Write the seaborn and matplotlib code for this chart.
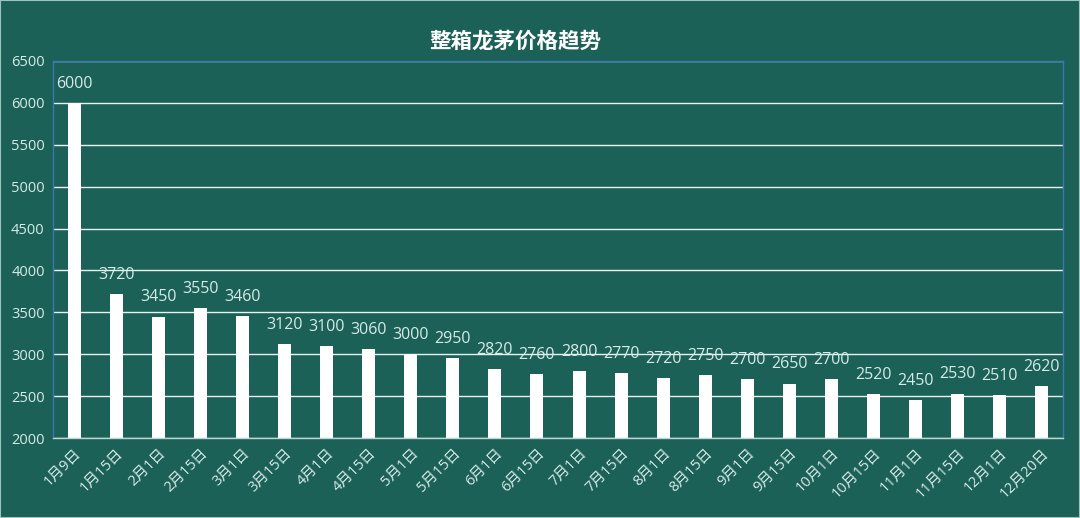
import matplotlib
matplotlib.use("Agg")
import matplotlib.pyplot as plt
import seaborn as sns
import pandas as pd
import numpy as np
from matplotlib.patches import Rectangle

categories = ["1月9日", "1月15日", "2月1日", "2月15日", "3月1日", "3月15日", "4月1日", "4月15日",
              "5月1日", "5月15日", "6月1日", "6月15日", "7月1日", "7月15日", "8月1日", "8月15日",
              "9月1日", "9月15日", "10月1日", "10月15日", "11月1日", "11月15日", "12月1日", "12月20日"]
prices = [6000, 3720, 3450, 3550, 3460, 3120, 3100, 3060, 3000, 2950, 2820, 2760,
          2800, 2770, 2720, 2750, 2700, 2650, 2700, 2520, 2450, 2530, 2510, 2620]
yticks = list(range(2000, 6501, 500))
title = "整箱龙茅价格趋势"

BG = "#1b6158"
TXT = "#d6ebe7"

sns.set_theme(style="white")
plt.rcParams['font.family'] = ['Open Sans', 'Noto Sans CJK SC', 'DejaVu Sans']

fig = plt.figure(figsize=(10.8, 5.18), dpi=100, facecolor=BG)
ax = fig.add_axes([53/1080, 1-438/518, (1063-53)/1080, (438-61)/518])
ax.set_facecolor(BG)

df = pd.DataFrame({"date": categories, "price": prices})
sns.barplot(data=df, x="date", y="price", color="white", width=0.31, ax=ax,
            saturation=1, edgecolor="none")

ax.set_ylim(2000, 6500)
ax.set_xlim(-0.5, len(categories) - 0.5)
ax.set_yticks(yticks)
ax.set_yticklabels([str(v) for v in yticks], color=TXT, fontsize=10.5)
ax.yaxis.grid(True, color="#e8f2f0", linewidth=1.0)
ax.set_axisbelow(True)
ax.tick_params(axis='y', length=0, pad=6)

ax.set_xticks(range(len(categories)))
ax.set_xticklabels(categories, rotation=45, ha='right', rotation_mode='anchor',
                   color=TXT, fontsize=10.5)
ax.tick_params(axis='x', which='major', length=0, pad=6)
ax.set_xticks(np.arange(-0.5, len(categories), 1.0), minor=True)
ax.tick_params(axis='x', which='minor', length=5, color="#b8d6d2", width=1, direction='out')
ax.set_xlabel("")
ax.set_ylabel("")

for s in ["left", "right", "top"]:
    ax.spines[s].set_color("#3a78b0")
    ax.spines[s].set_linewidth(1)
ax.spines["bottom"].set_color("#b8d6d2")
ax.spines["bottom"].set_linewidth(1)

for i, v in enumerate(prices):
    ax.annotate(str(v), (i, v), xytext=(0, 8), textcoords="offset points",
                ha="center", va="bottom", color=TXT, fontsize=11.5)

fig.text(515/1080, 1-42/518, title, ha="center", va="center", color="white",
         fontsize=15.5, fontweight="bold")

fig.patches.append(Rectangle((0, 0), 1, 1, transform=fig.transFigure, fill=False,
                             edgecolor="#9fc4bf", linewidth=1.5))

fig.savefig("out.png", dpi=100, facecolor=BG)
